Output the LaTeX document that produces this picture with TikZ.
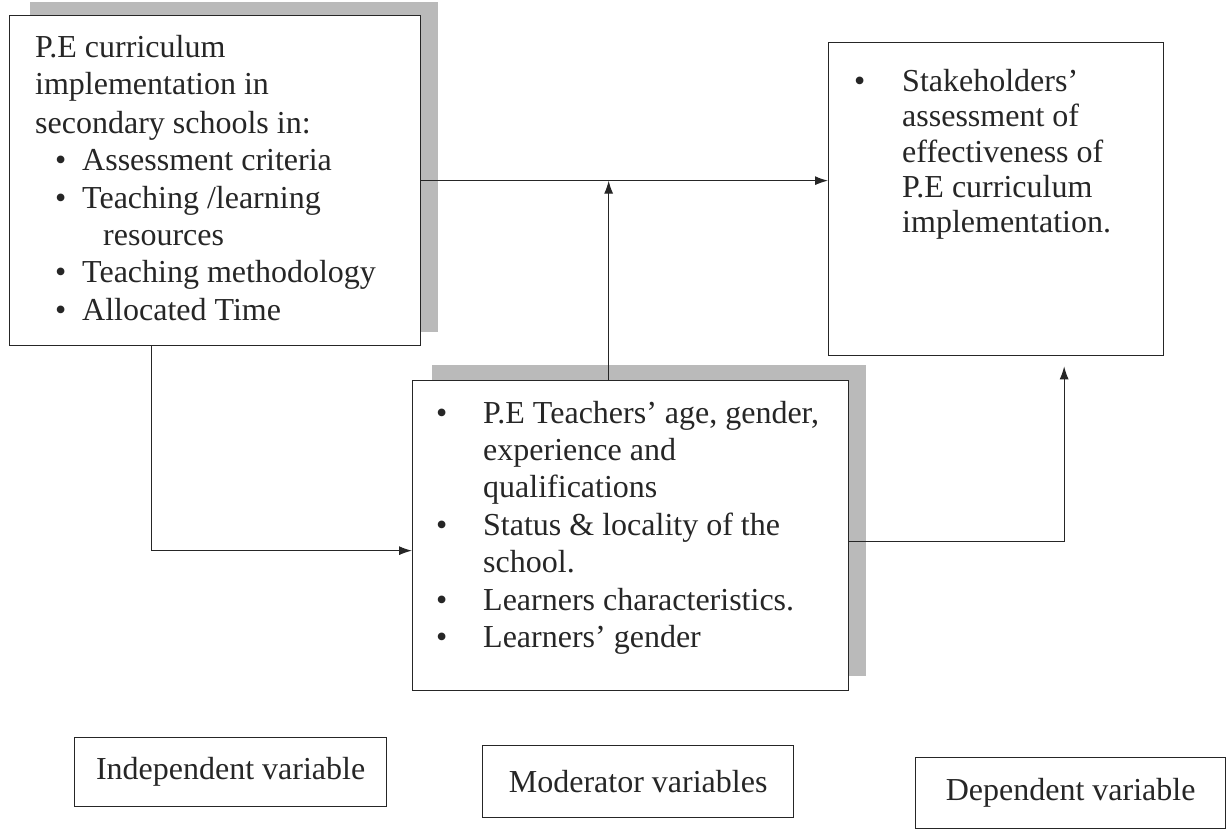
\documentclass[tikz,border=0pt]{standalone}
\usepackage{fontspec}
\setmainfont{Liberation Serif}
\usetikzlibrary{arrows.meta,calc}
\begin{document}
\begin{tikzpicture}[x=1pt,y=-1pt,
  box/.style={draw=black!85,line width=1.3pt,fill=white,inner sep=0pt,anchor=north west},
  shade/.style={fill=black!27,draw=none},
  txt/.style={anchor=base west,inner sep=0pt,font=\fontsize{32}{37}\selectfont,text=black!85},
  lbl/.style={inner sep=0pt,font=\fontsize{32}{37}\selectfont,text=black!85},
  arr/.style={line width=1.1pt,draw=black!85,-{Latex[length=13pt,width=9pt]}},
  ln/.style={line width=1.1pt,draw=black!85}]
\useasboundingbox (0,0) rectangle (1228,832);
% shadows
\fill[shade] (30,2) rectangle (438,332);
\fill[shade] (432,365) rectangle (866,676);
% boxes
\node[box,minimum width=411pt,minimum height=330pt] (b1) at (9,15) {};
\node[box,minimum width=436pt,minimum height=310pt] (b2) at (412,380) {};
\node[box,minimum width=335pt,minimum height=313pt] (b3) at (828,42) {};
% box 1 text
\node[txt] (t11) at (35,58) {P.E curriculum};
\node[txt] (t12) at (35,95) {implementation in};
\node[txt] (t13) at (35,133) {secondary schools in:};
\node[txt] (p11) at (55,170) {\textbullet};
\node[txt] (t14) at (82,170) {Assessment criteria};
\node[txt] (p12) at (55,208) {\textbullet};
\node[txt] (t15) at (82,208) {Teaching /learning};
\node[txt] (t16) at (103,245) {resources};
\node[txt] (p13) at (55,282) {\textbullet};
\node[txt] (t17) at (82,282) {Teaching methodology};
\node[txt] (p14) at (55,320) {\textbullet};
\node[txt] (t18) at (82,320) {Allocated Time};
% box 2 text
\node[txt] (p21) at (436,423) {\textbullet};
\node[txt] (t21) at (483,423) {P.E Teachers’ age, gender,};
\node[txt] (t22) at (483,460) {experience and};
\node[txt] (t23) at (483,497) {qualifications};
\node[txt] (p22) at (436,535) {\textbullet};
\node[txt] (t24) at (483,535) {Status \& locality of the};
\node[txt] (t25) at (483,572) {school.};
\node[txt] (p23) at (436,610) {\textbullet};
\node[txt] (t26) at (483,610) {Learners characteristics.};
\node[txt] (p24) at (436,647) {\textbullet};
\node[txt] (t27) at (483,647) {Learners’ gender};
% box 3 text
\node[txt] (p31) at (854,92) {\textbullet};
\node[txt] (t31) at (902,92) {Stakeholders’};
\node[txt] (t32) at (902,127) {assessment of};
\node[txt] (t33) at (902,162) {effectiveness of};
\node[txt] (t34) at (902,197) {P.E curriculum};
\node[txt] (t35) at (902,232) {implementation.};
% labels
\node[box,minimum width=312pt,minimum height=69pt] (l1) at (74,737) {};
\node[lbl] (l1t) at (l1.center) {Independent variable};
\node[box,minimum width=311pt,minimum height=72pt] (l2) at (482,745) {};
\node[lbl] (l2t) at (l2.center) {Moderator variables};
\node[box,minimum width=310pt,minimum height=71pt] (l3) at (915,757) {};
\node[lbl] (l3t) at (l3.center) {Dependent variable};
% connectors
\draw[arr] (b1.east) -- (b1.east -| b3.west);
\draw[arr] ([xshift=-22pt]b2.north) -- ([xshift=-22pt]b2.north |- b1.east);
\draw[arr] ([xshift=-64pt]b1.south) |- ([yshift=-15pt]b2.west);
\coordinate (c3) at ([xshift=68pt,yshift=-10pt]b3.south);
\draw[arr] ([yshift=-6pt]b2.east) -| (c3);
\end{tikzpicture}
\end{document}
